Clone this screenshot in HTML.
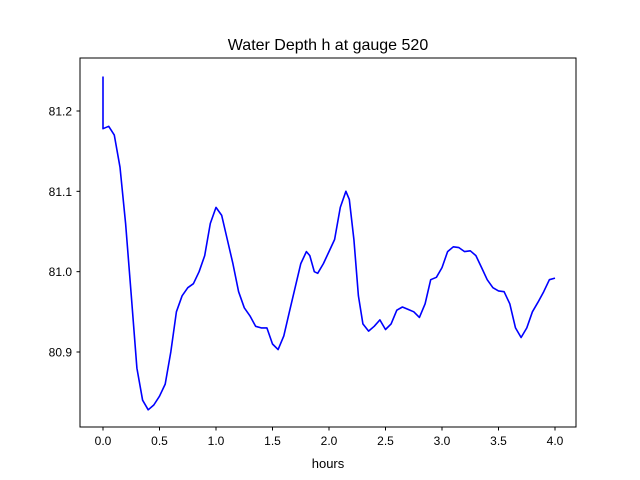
<!DOCTYPE html>
<html><head><meta charset="utf-8"><style>
body{margin:0;background:#fff;}
svg{display:block;font-family:"Liberation Sans","DejaVu Sans",sans-serif;}
</style></head><body>
<svg id="chart" width="640" height="480">
<rect x="0" y="0" width="640" height="480" fill="#fff"/>
<text x="328" y="50" text-anchor="middle" font-size="16">Water Depth h at gauge 520</text>
<g id="plot"></g>
<rect x="80" y="58" width="496" height="369" fill="none" stroke="#000" stroke-width="1"/>
<text x="328" y="468" text-anchor="middle" font-size="13">hours</text>
</svg>
<script>
const times=[0,0,0.05,0.1,0.15,0.2,0.25,0.3,0.35,0.4,0.45,0.5,0.55,0.6,0.65,0.7,0.75,0.8,0.85,0.9,0.95,1.0,1.05,1.1,1.15,1.2,1.25,1.3,1.35,1.4,1.45,1.5,1.55,1.6,1.65,1.7,1.75,1.8,1.83,1.87,1.9,1.95,2.0,2.05,2.1,2.15,2.18,2.22,2.26,2.3,2.35,2.4,2.45,2.5,2.55,2.6,2.65,2.7,2.75,2.8,2.85,2.9,2.95,3.0,3.05,3.1,3.15,3.2,3.25,3.3,3.35,3.4,3.45,3.5,3.55,3.6,3.65,3.7,3.75,3.8,3.85,3.9,3.95,4.0];
const depths=[81.243,81.178,81.181,81.17,81.13,81.06,80.97,80.88,80.84,80.828,80.834,80.845,80.86,80.9,80.95,80.97,80.98,80.985,81.0,81.02,81.06,81.08,81.07,81.04,81.01,80.975,80.955,80.945,80.932,80.93,80.93,80.91,80.903,80.92,80.95,80.98,81.01,81.025,81.02,81.0,80.998,81.01,81.025,81.04,81.08,81.1,81.09,81.04,80.97,80.935,80.926,80.932,80.94,80.928,80.935,80.952,80.956,80.953,80.95,80.943,80.96,80.99,80.993,81.005,81.025,81.031,81.03,81.025,81.026,81.02,81.005,80.99,80.98,80.976,80.975,80.96,80.93,80.918,80.93,80.95,80.962,80.975,80.99,80.992];
const xTicks=[0.0,0.5,1.0,1.5,2.0,2.5,3.0,3.5,4.0];
const yTicks=[80.9,81.0,81.1,81.2];
const ns="http://www.w3.org/2000/svg";
const X=v=>103+v*113;
const Y=v=>111+(81.2-v)*803.3;
const g=document.getElementById('plot');
function mk(t,a){const e=document.createElementNS(ns,t);for(const k in a)e.setAttribute(k,a[k]);return e;}
xTicks.forEach(t=>{
 const l=mk('line',{x1:X(t),x2:X(t),y1:427,y2:430.5,stroke:'#000'});
 
 
 g.appendChild(l);
 const tx=mk('text',{x:X(t),y:445,'text-anchor':'middle','font-size':'12'});
 tx.textContent=t.toFixed(1);
 
 
 g.appendChild(tx);
});
yTicks.forEach(t=>{
 const l=mk('line',{x1:76.5,x2:80,y1:Y(t),y2:Y(t),stroke:'#000'});
 
 
 g.appendChild(l);
 const tx=mk('text',{x:72,y:Y(t)+4.5,'text-anchor':'end','font-size':'12'});
 tx.textContent=t.toFixed(1);
 
 
 g.appendChild(tx);
});
const pts=times.map((t,i)=>X(t).toFixed(1)+','+Y(depths[i]).toFixed(1)).join(' ');
const pl=mk('polyline',{points:pts,fill:'none',stroke:'#0000ff','stroke-width':'1.6','stroke-linejoin':'round'});


g.appendChild(pl);
</script>
</body></html>
